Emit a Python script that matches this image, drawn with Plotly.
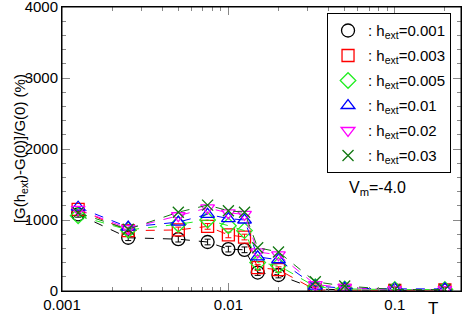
import numpy as np
import plotly.graph_objects as go

T = [0.00125, 0.0025, 0.005, 0.0075, 0.01, 0.0125, 0.015, 0.02, 0.0333, 0.05, 0.1, 0.2]
h001 = [1080, 750, 730, 690, 590, 580, 260, 225, 30, 15, 10, 10]
h003 = [1150, 850, 860, 910, 790, 760, 330, 300, 15, 10, 10, 15]
h005 = [1060, 860, 940, 1000, 920, 850, 400, 360, 60, 30, 20, 20]
h01 = [1180, 900, 970, 1080, 1020, 1000, 480, 440, 70, 40, 30, 30]
h02 = [1150, 880, 1060, 1170, 1100, 1080, 550, 510, 90, 50, 20, 20]
h03 = [1100, 870, 1110, 1210, 1130, 1110, 610, 550, 130, 70, 20, 20]
err001 = [40] * 12
err003 = [40] * 12

labels = ["0.001", "0.003", "0.005", "0.01", "0.02", "0.03"]
series = [h001, h003, h005, h01, h02, h03]
errs = [err001, err003, None, None, None, None]
colors = ["#000000", "#ff0000", "#22ee22", "#0000ff", "#ff00ff", "#117711"]
symbols = ["circle-open", "square-open", "diamond-open", "triangle-up-open",
           "triangle-down-open", "x-thin-open"]
sizes = [13, 12, 12, 12, 12, 11]

xtickvals = [0.001, 0.01, 0.1]
xticktext = ["0.001", "0.01", "0.1"]
ytickvals = [0, 1000, 2000, 3000, 4000]

fig = go.Figure()
for ys, e, c, s, sz in zip(series, errs, colors, symbols, sizes):
    fig.add_trace(go.Scatter(
        x=T, y=ys, mode="lines+markers", showlegend=False,
        line=dict(color=c, width=1, dash="dash"),
        marker=dict(symbol=s, size=sz, color=c, line=dict(color=c, width=1.3)),
        error_y=(dict(type="data", array=e, color=c, thickness=1, width=3)
                 if e is not None else None),
    ))
for i, (lab, c, s, sz) in enumerate(zip(labels, colors, symbols, sizes)):
    fig.add_trace(go.Scatter(
        x=[None], y=[None], mode="markers", legendgroup="g%d" % i,
        name=": h<sub>ext</sub>=" + lab,
        marker=dict(symbol=s, size=sz, color=c, line=dict(color=c, width=1.3)),
    ))

minor_x = [m * 10.0 ** d for d in (-3, -2, -1) for m in range(2, 10)]

font = "Liberation Sans, Arial, sans-serif"
fig.update_layout(
    width=463, height=318,
    margin=dict(l=62, r=2, t=7, b=27, autoexpand=False),
    paper_bgcolor="white", plot_bgcolor="white",
    font=dict(family=font, size=15, color="black"),
    xaxis=dict(type="log", range=[-3, np.log10(0.25)],
               tickmode="array", tickvals=xtickvals, ticktext=xticktext,
               ticks="inside", ticklen=8, tickcolor="#888",
               showline=True, linecolor="black", linewidth=1, mirror="ticks",
               showgrid=False, zeroline=False, ticklabeloverflow="allow",
               minor=dict(tickmode="array", tickvals=minor_x, ticks="inside",
                          ticklen=4, tickcolor="#888", showgrid=False),
               tickfont=dict(size=15)),
    yaxis=dict(range=[0, 4000], tickmode="array", tickvals=ytickvals,
               ticks="inside", ticklen=8, tickcolor="#888",
               showline=True, linecolor="black", linewidth=1, mirror="ticks",
               showgrid=False, zeroline=False, ticklabeloverflow="allow",
               minor=dict(dtick=200, ticks="inside", ticklen=4,
                          tickcolor="#888", showgrid=False),
               tickfont=dict(size=15)),
    legend=dict(x=0.975, y=0.978, xanchor="right", yanchor="top",
                bordercolor="black", borderwidth=1, bgcolor="white",
                font=dict(size=15), itemwidth=30, tracegroupgap=2.5),
    shapes=[dict(type="rect", xref="paper", yref="paper", x0=0, x1=1, y0=0, y1=1,
                 line=dict(color="black", width=1), layer="above")],
    annotations=[
        dict(text="[G(h<sub>ext</sub>)-G(0)]/G(0) (%)", xref="paper", yref="paper",
             x=-0.105, y=0.5, textangle=-90, showarrow=False,
             font=dict(size=15), xanchor="center", yanchor="middle"),
        dict(text="V<sub>m</sub>=-4.0", xref="paper", yref="paper",
             x=0.79, y=0.36, showarrow=False, font=dict(size=16),
             xanchor="center", yanchor="middle"),
        dict(text="T", xref="paper", yref="paper", x=0.93, y=-0.062,
             showarrow=False, font=dict(size=17), xanchor="center", yanchor="middle"),
    ],
)
fig.write_html(
    "out.html",
    config={"displayModeBar": False},
    post_script="document.body.style.margin='0';"
                "document.documentElement.style.overflow='hidden';",
)
